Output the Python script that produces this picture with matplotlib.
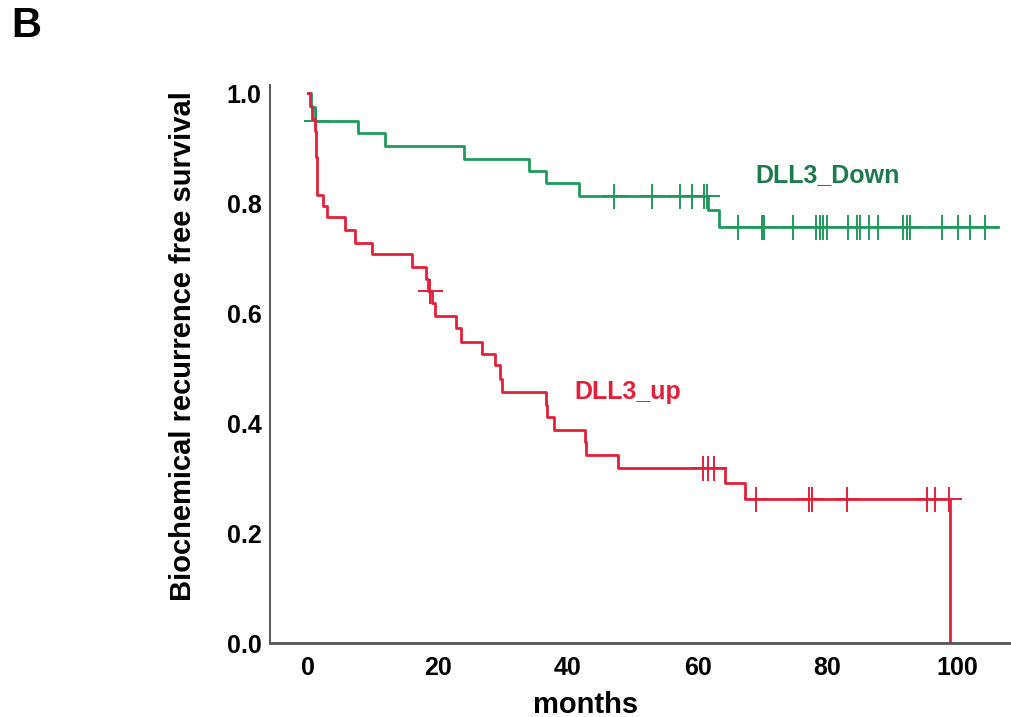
import numpy as np
import matplotlib
matplotlib.use('Agg')
import matplotlib.pyplot as plt

plt.rcParams['font.family'] = ['Liberation Sans', 'DejaVu Sans']

# Kaplan-Meier step points (months, survival after step)
down_t = [0, 0.4, 1.0, 7.7, 11.9, 24.0, 34.0, 36.6, 41.8, 61.6, 63.3, 106.3]
down_s = [1.0, 0.975, 0.95, 0.927, 0.904, 0.881, 0.859, 0.836, 0.813, 0.787, 0.757, 0.757]
down_cens = [1.2, 47.1, 53.0, 57.3, 59.2, 61.0, 61.4, 66.3, 70.0, 70.3, 74.7, 78.3,
             78.9, 79.4, 80.0, 83.2, 84.6, 85.1, 86.4, 87.8, 91.7, 92.3, 92.7,
             97.7, 100.2, 102.0, 104.3]

up_t = [0, 0.3, 0.6, 1.1, 1.2, 1.25, 1.3, 1.35, 1.4, 2.3, 2.9, 5.7, 7.2, 9.9, 16.0,
        18.2, 18.5, 19.1, 19.6, 22.8, 23.6, 26.8, 28.8, 29.6, 29.9, 36.6, 36.8,
        37.8, 42.6, 42.8, 47.8, 64.3, 67.3, 98.9]
up_s = [1.0, 0.977, 0.954, 0.931, 0.908, 0.885, 0.862, 0.838, 0.815, 0.795, 0.775,
        0.751, 0.727, 0.707, 0.684, 0.662, 0.640, 0.618, 0.595, 0.573, 0.547, 0.525,
        0.505, 0.48, 0.456, 0.433, 0.411, 0.387, 0.365, 0.342, 0.318, 0.291, 0.262, 0.0]
up_cens = [18.7, 60.9, 61.6, 62.6, 69.0, 77.2, 77.7, 83.1, 95.4, 96.6, 98.8]

green = '#1f9a5c'
red = '#e3203a'


def level(t, s, c):
    t = np.array(t)
    s = np.array(s)
    idx = np.searchsorted(t, c, side='right') - 1
    return s[idx]


fig = plt.figure(figsize=(10.11, 7.17), dpi=100)
ax = fig.add_axes([0.267, 0.103, 0.733, 0.778])

ax.step(down_t, down_s, where='post', color=green, lw=2)
ax.plot(down_cens, level(down_t, down_s, down_cens), '+', color=green, ms=18, mew=1.4)
ax.step(up_t, up_s, where='post', color=red, lw=2)
ax.plot(up_cens, level(up_t, up_s, up_cens), '+', color=red, ms=18, mew=1.4)

ax.text(80.1, 0.851, 'DLL3_Down', color='#1d7a4c', fontsize=18, fontweight='bold',
        ha='center', va='center')
ax.text(49.2, 0.456, 'DLL3_up', color=red, fontsize=18, fontweight='bold',
        ha='center', va='center')

ax.set_xlim(-5.9, 108.3)
ax.set_ylim(0, 1.0145)
ax.set_xticks([0, 20, 40, 60, 80, 100])
ax.set_yticks([0.0, 0.2, 0.4, 0.6, 0.8, 1.0])
ax.set_yticklabels(['0.0', '0.2', '0.4', '0.6', '0.8', '1.0'])
ax.tick_params(length=0, labelsize=18)
ax.tick_params(axis='x', pad=9)
ax.tick_params(axis='y', pad=6)
for lab in ax.get_xticklabels() + ax.get_yticklabels():
    lab.set_fontweight('bold')

for sp in ['top', 'right']:
    ax.spines[sp].set_visible(False)
ax.spines['left'].set_color('#555555')
ax.spines['bottom'].set_color('#555555')
ax.spines['left'].set_linewidth(1.4)
ax.spines['bottom'].set_linewidth(2)

ax.set_xlabel('months', fontsize=21, fontweight='bold')
ax.xaxis.set_label_coords(0.426, -0.085)
ax.set_ylabel('Biochemical recurrence free survival', fontsize=21, fontweight='bold')
ax.yaxis.set_label_coords(-0.099, 0.532)

fig.text(0.026, 0.964, 'B', fontsize=30, fontweight='bold', ha='center', va='center')

fig.savefig('out.png', dpi=100)
